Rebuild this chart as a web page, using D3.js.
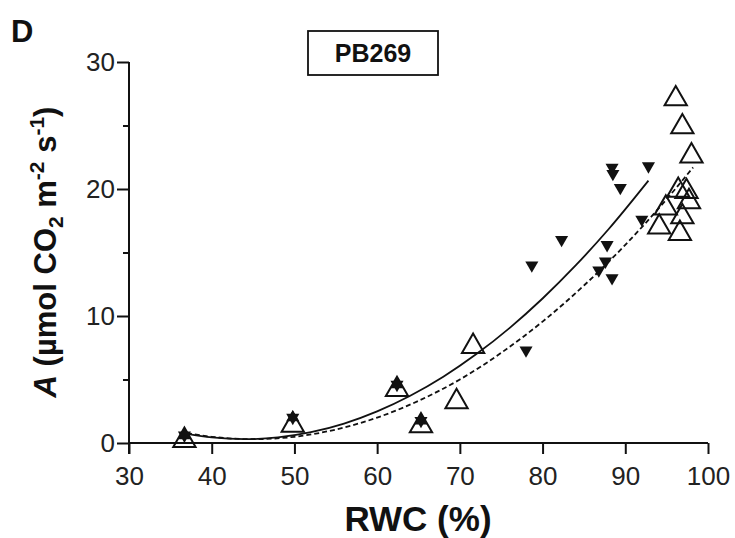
<!DOCTYPE html>
<html><head><meta charset="utf-8">
<script src="https://cdn.jsdelivr.net/npm/d3@7"></script>
<style>body{margin:0;background:#fff}svg{display:block}text{font-family:"Liberation Sans",Arial,sans-serif}</style>
</head><body><svg id="c" width="735" height="538"></svg>
<script>
// Open triangles (well-watered)
const openX = [36.7, 49.8, 62.4, 65.3, 69.6, 71.6, 94.1, 94.9, 96.4, 96.6, 96.9, 97.4, 97.7, 96.1, 96.9, 98.0];
const openY = [0.2, 1.4, 4.2, 1.35, 3.25, 7.6, 17.0, 18.5, 19.9, 16.5, 17.8, 19.8, 19.0, 27.1, 24.9, 22.6];
// Filled down triangles
const fillX = [78.0, 78.7, 82.3, 86.8, 87.6, 87.8, 88.4, 88.4, 88.5, 89.4, 92.0, 92.8];
const fillY = [7.3, 14.0, 16.0, 13.6, 14.3, 15.6, 13.0, 21.7, 21.2, 20.1, 17.6, 21.8];
// Filled points overlapping open ones (drawn as star)
const starX = [36.7, 49.8, 62.4, 65.3];
const starY = [0.6, 2.0, 4.6, 1.75];
// Fitted curves
const solidX = [37, 40, 44, 48, 52, 56, 60, 64, 68, 72, 76, 80, 84, 88, 92.8];
const solidY = [0.72, 0.44, 0.3, 0.44, 0.85, 1.53, 2.49, 3.72, 5.22, 7.0, 9.05, 11.38, 13.98, 16.85, 20.66];
const dashX = [37, 40, 45, 50, 55, 60, 65, 70, 75, 80, 85, 90, 95, 98.2];
const dashY = [0.78, 0.49, 0.3, 0.49, 1.06, 2.0, 3.32, 5.0, 7.1, 9.56, 12.4, 15.6, 19.2, 21.7];
const xTicks = [30, 40, 50, 60, 70, 80, 90, 100];
const yTicks = [0, 10, 20, 30];
const yMinor = [5, 15, 25];

const svg = d3.select("#c");
const x = d3.scaleLinear().domain([30, 100]).range([129, 708]);
const y = d3.scaleLinear().domain([0, 30]).range([443, 62]);

// axes
const xa = svg.append("g").attr("transform", "translate(0,443)")
  .call(d3.axisBottom(x).tickValues(xTicks).tickSize(11).tickPadding(13).tickFormat(d3.format("d")));
const ya = svg.append("g").attr("transform", "translate(129,0)")
  .call(d3.axisLeft(y).tickValues(yTicks).tickSize(12).tickPadding(2).tickFormat(d3.format("d")));
svg.append("g").attr("transform", "translate(129,0)")
  .call(d3.axisLeft(y).tickValues(yMinor).tickSize(6).tickFormat(""))
  .select(".domain").remove();
svg.selectAll(".domain").attr("stroke", "#111").attr("stroke-width", 2);
svg.selectAll(".tick line").attr("stroke", "#111").attr("stroke-width", 2);
svg.selectAll(".tick text").attr("font-size", 26).attr("fill", "#222")
  .style("font-family", "'Liberation Sans',Arial,sans-serif");
xa.select(".domain").attr("d", `M${x(30)},0H${x(100)}`);
ya.select(".domain").attr("d", `M0,${y(30)}V${y(0) + 11}`);

// curves
const line = d3.line().x(d => x(d[0])).y(d => y(d[1])).curve(d3.curveMonotoneX);
svg.append("path").attr("d", line(solidX.map((v, i) => [v, solidY[i]])))
  .attr("fill", "none").attr("stroke", "#111").attr("stroke-width", 1.8);
svg.append("path").attr("d", line(dashX.map((v, i) => [v, dashY[i]])))
  .attr("fill", "none").attr("stroke", "#111").attr("stroke-width", 1.8).attr("stroke-dasharray", "5,3");

// markers
const triUp = d3.symbol().type(d3.symbolTriangle).size(215);
svg.append("g").selectAll("path").data(openX.map((v, i) => [v, openY[i]])).join("path")
  .attr("d", triUp).attr("transform", d => `translate(${x(d[0])},${y(d[1])})`)
  .attr("fill", "none").attr("stroke", "#111").attr("stroke-width", 2);
const triSmall = d3.symbol().type(d3.symbolTriangle).size(74);
svg.append("g").selectAll("path").data(fillX.map((v, i) => [v, fillY[i]])).join("path")
  .attr("d", triSmall).attr("transform", d => `translate(${x(d[0])},${y(d[1])}) rotate(180)`)
  .attr("fill", "#111");
const stars = svg.append("g").selectAll("g").data(starX.map((v, i) => [v, starY[i]])).join("g")
  .attr("transform", d => `translate(${x(d[0])},${y(d[1])})`);
stars.append("path").attr("d", triSmall).attr("transform", "rotate(180)").attr("fill", "#111");
stars.append("path").attr("d", triSmall).attr("fill", "#111");

// labels
svg.append("text").attr("x", 11).attr("y", 42).attr("font-size", 31).attr("font-weight", "bold").attr("fill", "#111").text("D");
svg.append("rect").attr("x", 308).attr("y", 31).attr("width", 130).attr("height", 44)
  .attr("fill", "#fff").attr("stroke", "#111").attr("stroke-width", 1.8);
svg.append("text").attr("x", 373).attr("y", 62).attr("text-anchor", "middle").attr("font-size", 25)
  .attr("font-weight", "bold").attr("fill", "#111").text("PB269");
svg.append("text").attr("x", 418).attr("y", 531).attr("text-anchor", "middle").attr("font-size", 35)
  .attr("font-weight", "bold").attr("fill", "#111").text("RWC (%)");

const yl = svg.append("text").attr("transform", "translate(56,252) rotate(-90)").attr("text-anchor", "middle")
  .attr("font-size", 31).attr("font-weight", "bold").attr("fill", "#111");
yl.append("tspan").attr("font-style", "italic").text("A");
yl.append("tspan").text(" (µmol CO");
yl.append("tspan").attr("font-size", 21).attr("dy", 7).text("2");
yl.append("tspan").attr("dy", -7).text(" m");
yl.append("tspan").attr("font-size", 21).attr("dy", -12).text("-2");
yl.append("tspan").attr("dy", 12).text(" s");
yl.append("tspan").attr("font-size", 21).attr("dy", -12).text("-1");
yl.append("tspan").attr("dy", 12).text(")");
</script></body></html>
